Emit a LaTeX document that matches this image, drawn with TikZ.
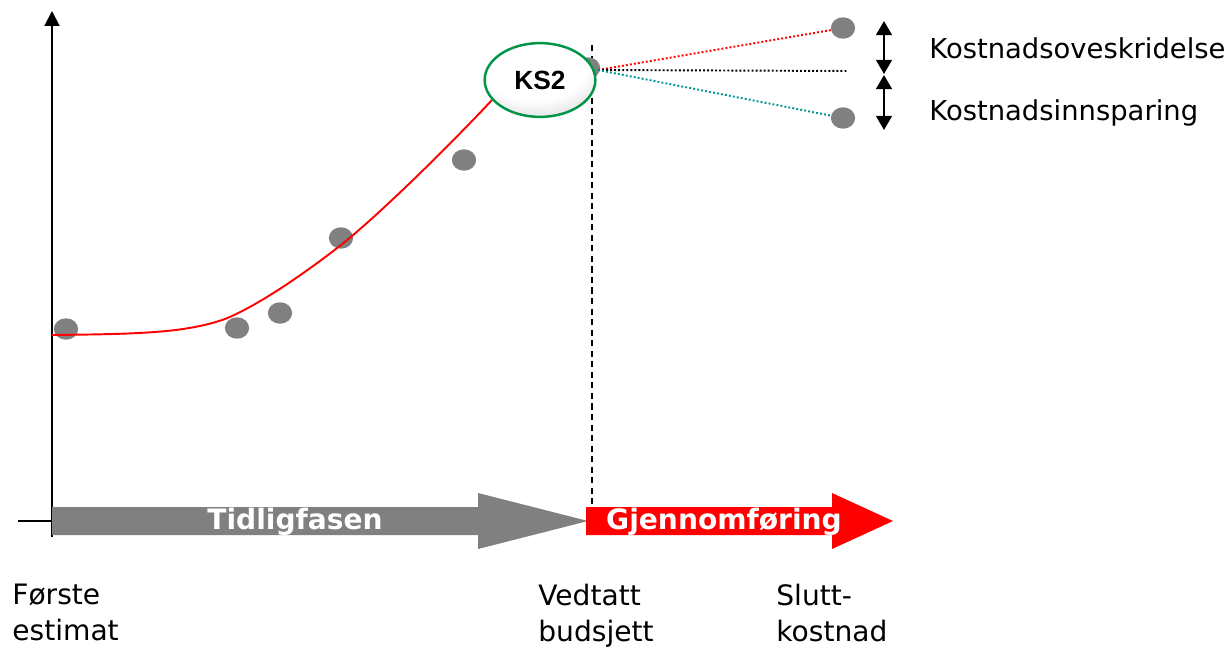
\documentclass[tikz,border=0pt]{standalone}
\usepackage{fontspec}
\setmainfont{DejaVu Sans}
\newfontfamily\ksfont{Liberation Sans}
\usetikzlibrary{shapes.geometric,arrows.meta}

\definecolor{dotgray}{RGB}{128,128,128}
\definecolor{ksgreen}{RGB}{0,150,70}
\definecolor{saveteal}{RGB}{0,150,150}
\pgfdeclareradialshading{ksball}{\pgfpoint{-4bp}{14bp}}{%
  color(0bp)=(white); color(24bp)=(white); color(36bp)=(gray!25);
  color(52bp)=(gray!65); color(80bp)=(gray!65)}

\tikzset{
  dot/.style={ellipse, fill=dotgray, minimum width=13.8pt, minimum height=12.2pt, inner sep=0pt},
  label/.style={anchor=north west, align=left, inner sep=0pt, font=\fontsize{16}{20.4}\selectfont},
  phase/.style={text=white, inner sep=0pt, font=\bfseries\fontsize{16}{18}\selectfont},
  spread/.style={line width=1.1pt, dash pattern=on 1.1pt off 1.2pt},
  twotip/.style={line width=1.1pt, {Triangle[width=9pt,length=8pt]}-{Triangle[width=9pt,length=8pt]}}
}

\begin{document}
\begin{tikzpicture}[x=0.02cm, y=-0.02cm, every node/.style={font=\fontsize{15.6}{20}\selectfont}]
  \useasboundingbox (0,0) rectangle (1230,653);

  % Axes
  \coordinate (origin) at (52,521);
  \coordinate (ytop) at (52,11);
  \coordinate (xstub) at (18,521);
  \draw[line width=1.1pt] (xstub) -- (origin);
  \draw[line width=1.1pt, -{Triangle[width=8.5pt,length=8.5pt]}] (52,537) -- (ytop);

  % Phase arrows
  \fill[dotgray] (52,507) -- (478,507) -- (478,493) -- (588,521) -- (478,549) -- (478,535) -- (52,535) -- cycle;
  \node[phase] (early) at (295,522) {Tidligfasen};
  \fill[red] (586,507) -- (832,507) -- (832,493) -- (893,521) -- (832,549) -- (832,535) -- (586,535) -- cycle;
  \node[phase] (exec) at (724,522) {Gjennomføring};

  % Decision line
  \draw[dash pattern=on 3.5pt off 2.5pt, line width=0.8pt] (592,45) -- (592,505);

  % Estimates
  \node[dot] (e1) at (66,329) {};
  \node[dot] (e2) at (237,328) {};
  \node[dot] (e3) at (280,313) {};
  \node[dot] (e4) at (341,238) {};
  \node[dot] (e5) at (464,160) {};
  \node[dot] (hidden) at (588,68) {};
  \draw[red, line width=1.1pt] (52,335) .. controls (140,334) and (185,333) .. (225,319)
    .. controls (255,307) and (300,277) .. (341,245)
    .. controls (380,214) and (450,145) .. (492,100);

  % KS2
  \node[ellipse, draw=ksgreen, line width=1.4pt, shading=ksball,
        minimum width=63pt, minimum height=42pt, font=\ksfont\bfseries\fontsize{15}{17}\selectfont] (ks2) at (540,80) {KS2};
  \coordinate (fan) at (598,70);

  % Final cost
  \node[dot] (over) at (843,28) {};
  \node[dot] (under) at (843,118) {};
  \coordinate (level) at (848,71);
  \draw[spread, red] (fan) -- (over);
  \draw[spread, black] (fan) -- (level);
  \draw[spread, saveteal] (fan) -- (under);

  % Spread arrows
  \coordinate (a1) at (884,21);
  \coordinate (a2) at (884,74);
  \coordinate (a3) at (884,75);
  \coordinate (a4) at (884,130);
  \draw[twotip] (a1) -- (a2);
  \draw[twotip] (a3) -- (a4);
  \node[anchor=west, inner sep=0pt] (overtext) at (929,48) {Kostnadsoveskridelse};
  \node[anchor=west, inner sep=0pt] (undertext) at (929,113) {Kostnadsinnsparing};

  % Milestones
  \node[label] (first) at (12,584) {Første\\estimat};
  \node[label] (budget) at (538,584) {Vedtatt\\budsjett};
  \node[label] (final) at (776,584) {Slutt-\\kostnad};
\end{tikzpicture}
\end{document}
